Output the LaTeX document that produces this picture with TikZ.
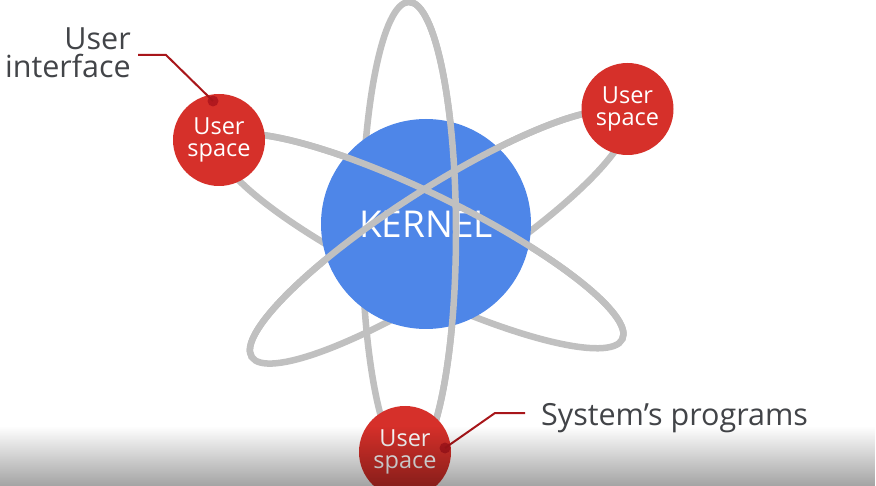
\documentclass[tikz,border=0pt]{standalone}
\usepackage{fontspec}
\setmainfont{Open Sans}
\usetikzlibrary{fadings}
\definecolor{orbitgray}{RGB}{192,192,192}
\definecolor{kernelblue}{RGB}{78,134,232}
\definecolor{userred}{RGB}{214,48,42}
\definecolor{leaderred}{RGB}{168,22,26}
\definecolor{dotred}{RGB}{178,24,30}
\definecolor{labelgray}{RGB}{66,68,72}
\begin{document}
\begin{tikzpicture}[x=1pt,y=-1pt,
  orbitline/.style={draw=orbitgray, line width=6.5pt},
  kernelnode/.style={circle, fill=kernelblue, minimum size=210pt, inner sep=0pt, text=white, font=\fontsize{37}{40}\selectfont},
  usernode/.style={circle, fill=userred, minimum size=92pt, inner sep=0pt, text=white, align=center, font=\fontsize{23.5}{21.5}\selectfont},
  textlabel/.style={text=labelgray, inner sep=0pt, font=\fontsize{30.5}{28}\selectfont},
  leader/.style={draw=leaderred, line width=2pt},
  leaderdot/.style={circle, fill=dotred, minimum size=11pt, inner sep=0pt}
]
\useasboundingbox (0,0) rectangle (876,486);
\fill[white] (0,0) rectangle (876,486);
% full orbits (back parts)
\draw[orbitline] (409,232) ellipse [x radius=47, y radius=230];
\begin{scope}[shift={(421,241)}, rotate=-26]
  \draw[orbitline] (0,0) ellipse [x radius=224, y radius=48];
\end{scope}
\begin{scope}[shift={(438.5,237)}, rotate=32.7]
  \draw[orbitline] (0,0) ellipse [x radius=222, y radius=48];
\end{scope}
% kernel
\node[kernelnode] (kernel) at (426,224) {KERNEL};
% front parts of orbits
\begin{scope}
  \clip (409,0) rectangle (600,486);
  \draw[orbitline] (409,232) ellipse [x radius=47, y radius=230];
\end{scope}
\begin{scope}[shift={(421,241)}, rotate=-26]
  \clip (-300,-100) rectangle (300,0);
  \draw[orbitline] (0,0) ellipse [x radius=224, y radius=48];
\end{scope}
\begin{scope}[shift={(438.5,237)}, rotate=32.7]
  \clip (-300,-100) rectangle (300,0);
  \draw[orbitline] (0,0) ellipse [x radius=222, y radius=48];
\end{scope}
% user space nodes
\node[usernode] (us1) at (219,140) {User\\space};
\node[usernode] (us2) at (627.5,109) {User\\space};
\node[usernode] (us3) at (405,452) {User\\space};
% labels
\node[textlabel, align=right, anchor=base east] (ui) at (131,78) {User\\interface};
\node[textlabel, anchor=base west] (sp) at (541,425) {System’s programs};
% leaders
\node[leaderdot] (uidot) at (213,101) {};
\coordinate (uistart) at (138,55);
\coordinate (uibend) at (166,55);
\draw[leader] (uistart) -- (uibend) -- (uidot.center);
\node[leaderdot] (spdot) at (445,448) {};
\coordinate (spstart) at (525,413);
\coordinate (spbend) at (495,413);
\draw[leader] (spstart) -- (spbend) -- (spdot.center);
% bottom video shading
\fill[black, fill opacity=0.36, path fading=north] (0,426) rectangle (876,486);
\end{tikzpicture}
\end{document}
